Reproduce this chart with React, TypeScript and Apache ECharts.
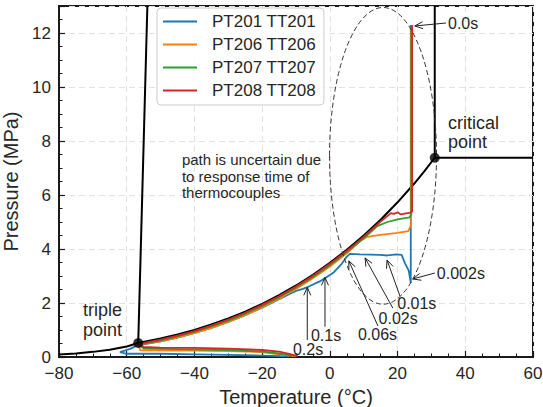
import React, { useEffect, useRef } from 'react';
import * as echarts from 'echarts';

const FONT = '"Liberation Sans", Arial, Helvetica, sans-serif';
const INK = '#262626';

const seriesNames = ['PT201 TT201', 'PT206 TT206', 'PT207 TT207', 'PT208 TT208'];
const seriesColors = ['#1f77b4', '#ff7f0e', '#2ca02c', '#d62728'];

const pt201 = [
  [23.9, 12.3], [23.9, 2.75], [23.3, 3.2], [22.2, 3.47], [21.2, 3.78], [19.7, 3.8], [17, 3.76],
  [14.8, 3.78], [9, 3.8], [5.9, 3.82], [4.9, 3.7], [3.5, 3.45], [1, 3.12], [-1, 2.95], [-3, 2.8],
  [-6.4, 2.6], [-8, 2.52], [-10, 2.45], [-12, 2.33], [-15, 2.14], [-20, 1.83], [-25, 1.55],
  [-30, 1.3], [-35, 1.08], [-40, 0.89], [-45, 0.72], [-50, 0.58], [-55, 0.47], [-57, 0.42],
  [-59, 0.3], [-62, 0.18], [-60, 0.12], [-50, 0.12], [-40, 0.1], [-30, 0.08], [-20, 0.05], [-12, 0.02],
];
const pt206 = [
  [24.0, 12.2], [24.0, 4.9], [23.2, 4.66], [20, 4.6], [15, 4.52], [11, 4.45], [9, 4.3], [5, 3.84],
  [0, 3.35], [-5, 2.92], [-10, 2.52], [-15, 2.16], [-20, 1.84], [-25, 1.55], [-30, 1.3], [-35, 1.08],
  [-40, 0.88], [-45, 0.72], [-50, 0.58], [-56.5, 0.46], [-56, 0.25], [-40, 0.24], [-30, 0.22],
  [-20, 0.18], [-15, 0.1], [-10, 0.02],
];
const pt207 = [
  [24.1, 12.2], [24.1, 5.3], [23.5, 5.17], [20, 5.1], [17, 5.0], [14, 4.85], [12, 4.62], [10, 4.4],
  [5, 3.89], [0, 3.4], [-5, 2.96], [-10, 2.57], [-15, 2.21], [-20, 1.89], [-25, 1.6], [-30, 1.35],
  [-35, 1.13], [-40, 0.93], [-45, 0.76], [-50, 0.61], [-56.5, 0.47], [-55, 0.31], [-45, 0.29],
  [-30, 0.26], [-20, 0.2], [-15, 0.13], [-10, 0.03],
];
const pt208 = [
  [24.3, 12.3], [24.3, 5.4], [23.8, 5.35], [22.5, 5.32], [21, 5.28], [20, 5.36], [19, 5.3],
  [18, 5.33], [17, 5.22], [16, 5.12], [15, 5.02], [10, 4.45], [5, 3.93], [0, 3.45], [-5, 3.01],
  [-10, 2.61], [-15, 2.25], [-20, 1.93], [-25, 1.64], [-30, 1.39], [-35, 1.16], [-40, 0.96],
  [-45, 0.79], [-50, 0.64], [-56.5, 0.48], [-55, 0.37], [-50, 0.35], [-40, 0.34], [-30, 0.31],
  [-20, 0.26], [-15, 0.2], [-12, 0.12], [-9.5, 0.03],
];
const seriesData = [pt201, pt206, pt207, pt208];

const sublimationCurve = [[-80, 0.09], [-75, 0.13], [-70, 0.19], [-65, 0.27], [-60, 0.39], [-56.6, 0.518]];
const vaporCurve = [
  [-56.6, 0.518], [-50, 0.682], [-45, 0.832], [-40, 1.005], [-35, 1.203], [-30, 1.428], [-25, 1.682],
  [-20, 1.97], [-15, 2.291], [-10, 2.649], [-5, 3.046], [0, 3.485], [5, 3.969], [10, 4.502],
  [15, 5.086], [20, 5.729], [25, 6.434], [28, 6.894], [30.98, 7.38],
];
const meltingLine = [[-56.6, 0.518], [-53.9, 13]];
const criticalIsotherm = [[30.98, 7.38], [30.98, 13]];
const criticalIsobar = [[30.98, 7.38], [60, 7.38]];
const specialPoints = [[-56.6, 0.518], [30.98, 7.38]];

// uncertainty ellipse: centre T, centre P, half-width (°C), half-height (MPa)
const ellipseSpec = [[15.7, 7.45, 15.8, 5.5]];

const timeLabels = ['0.0s', '0.002s', '0.01s', '0.02s', '0.06s', '0.1s', '0.2s'];
const timeLabelPos = [[34.9, 12.37], [31.6, 3.11], [19.9, 2.0], [14.4, 1.44], [8.3, 0.85], [-5.6, 0.81], [-10.9, 0.26]];
const arrowFrom = [[34.3, 12.37], [31.0, 3.11], [20.7, 2.26], [18.6, 1.81], [14.2, 1.15], [-1.44, 1.12], [-6.67, 0.63]];
const arrowTo = [[25.1, 12.26], [24.5, 2.89], [16.9, 3.59], [10.4, 3.67], [5.6, 3.56], [-1.44, 2.95], [-6.67, 2.58]];

const noteTexts = ['triple\npoint', 'critical\npoint', 'path is uncertain due\nto response time of\nthermocouples'];
const notePos = [[-72.9, 1.37], [34.9, 8.31], [-43.7, 6.69]];
const noteSizes = [18, 18, 15];
const noteLineHeights = [20, 19.5, 16.5];

const xTicks = { min: -80, max: 60, interval: 20 };
const yTicks = { min: 0, max: 13, interval: 2 };

function buildOption() {
  const blackLine = (name: string, data: number[][]) => ({
    name,
    type: 'line',
    data,
    symbol: 'none',
    lineStyle: { color: '#000', width: 2 },
    z: 3,
    silent: true,
  });

  const colored = seriesNames.map((name, i) => ({
    name,
    type: 'line',
    data: seriesData[i],
    symbol: 'none',
    color: seriesColors[i],
    lineStyle: { color: seriesColors[i], width: 1.8 },
    z: 4,
    silent: true,
  }));

  const axisCommon = {
    type: 'value',
    nameLocation: 'middle',
    nameTextStyle: { fontSize: 20, color: INK, fontFamily: FONT },
    axisLine: { show: true, onZero: false, lineStyle: { color: '#1a1a1a', width: 2 } },
    axisTick: { show: true, inside: true, length: 6, lineStyle: { color: '#1a1a1a', width: 1.2 } },
    minorTick: { show: true, splitNumber: 4, length: 3.5, lineStyle: { color: '#1a1a1a', width: 1 } },
    splitLine: { show: true, lineStyle: { color: '#e2e2e2', type: [6, 4], width: 1 } },
  };

  return {
    animation: false,
    backgroundColor: '#fff',
    textStyle: { fontFamily: FONT },
    grid: {
      left: 59, right: 10, top: 6, bottom: 50,
      containLabel: false,
      outerBoundsMode: 'none',
      show: true, borderColor: '#1a1a1a', borderWidth: 2, backgroundColor: 'transparent',
    },
    legend: {
      data: seriesNames,
      orient: 'vertical',
      left: 157,
      top: 8,
      icon: 'rect',
      itemWidth: 34,
      itemHeight: 2.2,
      itemGap: 6,
      padding: [5, 8, 6, 6],
      backgroundColor: 'rgba(255,255,255,0.85)',
      borderColor: '#cccccc',
      borderWidth: 1,
      borderRadius: 4,
      textStyle: { fontSize: 17, color: INK, fontFamily: FONT, padding: [0, 0, 0, 10] },
    },
    xAxis: {
      ...axisCommon,
      ...xTicks,
      name: 'Temperature (°C)',
      nameGap: 28,
      axisLabel: {
        fontSize: 17, color: INK, fontFamily: FONT, margin: 8,
        formatter: (v: number) => String(v).replace('-', '\u2212'),
      },
    },
    yAxis: {
      ...axisCommon,
      ...yTicks,
      name: 'Pressure (MPa)',
      nameGap: 34,
      axisLabel: { fontSize: 17, color: INK, fontFamily: FONT, margin: 8, showMaxLabel: false },
    },
    series: [
      blackLine('sublimation', sublimationCurve),
      blackLine('vapour', vaporCurve),
      blackLine('melting', meltingLine),
      blackLine('critical isotherm', criticalIsotherm),
      blackLine('critical isobar', criticalIsobar),
      ...colored,
      {
        name: 'special points',
        type: 'scatter',
        data: specialPoints,
        symbolSize: 10,
        itemStyle: { color: '#000' },
        z: 6,
        silent: true,
      },
      {
        name: 'ellipse',
        type: 'custom',
        data: ellipseSpec,
        encode: { x: 0, y: 1 },
        clip: false,
        silent: true,
        z: 5,
        renderItem: (params: any, api: any) => {
          const c = api.coord([api.value(0), api.value(1)]);
          const s = api.size([api.value(2), api.value(3)]);
          const rx = s[0];
          const ry = s[1];
          const cx = c[0];
          const cy = c[1];
          return {
            type: 'path',
            shape: {
              pathData: `M${cx - rx} ${cy} A${rx} ${ry} 0 1 0 ${cx + rx} ${cy} A${rx} ${ry} 0 1 0 ${cx - rx} ${cy} Z`,
            },
            style: { fill: 'none', stroke: '#333', lineWidth: 1, lineDash: [5, 3] },
          };
        },
      },
      {
        name: 'arrows',
        type: 'custom',
        data: arrowFrom.map((f, i) => [f[0], f[1], arrowTo[i][0], arrowTo[i][1]]),
        encode: { x: [0, 2], y: [1, 3] },
        clip: false,
        silent: true,
        z: 7,
        renderItem: (params: any, api: any) => {
          const p1 = api.coord([api.value(0), api.value(1)]);
          const p2 = api.coord([api.value(2), api.value(3)]);
          const ang = Math.atan2(p2[1] - p1[1], p2[0] - p1[0]);
          const L = 8;
          const W = 3.5;
          const bx = p2[0] - L * Math.cos(ang);
          const by = p2[1] - L * Math.sin(ang);
          const nx = -Math.sin(ang);
          const ny = Math.cos(ang);
          return {
            type: 'group',
            children: [
              { type: 'line', shape: { x1: p1[0], y1: p1[1], x2: p2[0], y2: p2[1] }, style: { stroke: '#222', lineWidth: 1 } },
              {
                type: 'polyline',
                shape: { points: [[bx + W * nx, by + W * ny], [p2[0], p2[1]], [bx - W * nx, by - W * ny]] },
                style: { stroke: '#222', fill: 'none', lineWidth: 1 },
              },
            ],
          };
        },
      },
      {
        name: 'time labels',
        type: 'custom',
        data: timeLabelPos,
        encode: { x: 0, y: 1 },
        clip: false,
        silent: true,
        z: 8,
        renderItem: (params: any, api: any) => {
          const p = api.coord([api.value(0), api.value(1)]);
          return {
            type: 'text',
            x: p[0],
            y: p[1],
            style: {
              text: timeLabels[params.dataIndex],
              fill: INK,
              fontSize: 16,
              fontFamily: FONT,
              align: 'left',
              verticalAlign: 'middle',
            },
          };
        },
      },
      {
        name: 'notes',
        type: 'custom',
        data: notePos,
        encode: { x: 0, y: 1 },
        clip: false,
        silent: true,
        z: 8,
        renderItem: (params: any, api: any) => {
          const p = api.coord([api.value(0), api.value(1)]);
          const i = params.dataIndex;
          return {
            type: 'text',
            x: p[0],
            y: p[1],
            style: {
              text: noteTexts[i],
              fill: INK,
              fontSize: noteSizes[i],
              lineHeight: noteLineHeights[i],
              fontFamily: FONT,
              align: 'left',
              verticalAlign: 'middle',
            },
          };
        },
      },
    ],
  };
}

export default function App() {
  const ref = useRef<HTMLDivElement>(null);
  useEffect(() => {
    if (!ref.current) return;
    const chart = echarts.init(ref.current, null, { renderer: 'svg' });
    chart.setOption(buildOption() as any);
    return () => chart.dispose();
  }, []);
  return (
    <div
      ref={ref}
      style={{ position: 'fixed', left: 0, top: 0, width: 543, height: 407, background: '#fff' }}
    />
  );
}
